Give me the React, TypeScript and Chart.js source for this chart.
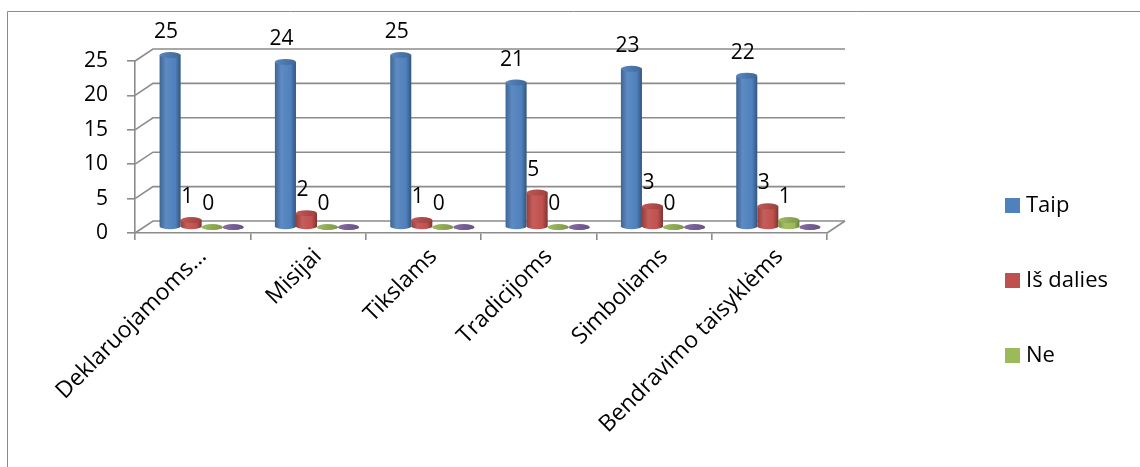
import React, { useEffect, useRef } from "react";
import { Chart, registerables } from "chart.js";

Chart.register(...registerables);

const categories = [
  "Deklaruojamoms…",
  "Misijai",
  "Tikslams",
  "Tradicijoms",
  "Simboliams",
  "Bendravimo taisyklėms",
];
const taipValues = [25, 24, 25, 21, 23, 22];
const isDaliesValues = [1, 2, 1, 5, 3, 3];
const neValues = [0, 0, 0, 0, 0, 1];
const otherValues = [0, 0, 0, 0, 0, 0];
const yTicks = [0, 5, 10, 15, 20, 25];

const seriesNames = ["Taip", "Iš dalies", "Ne", ""];
const seriesColors = ["#4F81BD", "#C0504D", "#9BBB59", "#8064A2"];
const labelledSeries = 3;

const FONT = "'Open Sans', 'Noto Sans', sans-serif";
const GRID = "#8c8c8c";
// depth of the 3D box (back wall offset) and of the bar row inside it
const DX = 18;
const DY = -12;
const BX = 9;
const BY = -6;

function shade(hex: string, amt: number): string {
  const n = parseInt(hex.slice(1), 16);
  let r = (n >> 16) & 255;
  let g = (n >> 8) & 255;
  let b = n & 255;
  const f = (c: number) =>
    Math.round(amt >= 0 ? c + (255 - c) * amt : c * (1 + amt));
  r = f(r);
  g = f(g);
  b = f(b);
  return `rgb(${r},${g},${b})`;
}

function drawCylinder(
  ctx: CanvasRenderingContext2D,
  cx: number,
  top: number,
  base: number,
  w: number,
  color: string
) {
  const rx = w / 2;
  const ry = 3;
  const l = cx - rx;
  const r = cx + rx;
  const g = ctx.createLinearGradient(l, 0, r, 0);
  g.addColorStop(0, shade(color, -0.22));
  g.addColorStop(0.3, shade(color, 0.08));
  g.addColorStop(0.75, color);
  g.addColorStop(1, shade(color, -0.35));
  ctx.beginPath();
  ctx.moveTo(l, top);
  ctx.lineTo(l, base);
  ctx.ellipse(cx, base, rx, ry, 0, Math.PI, 0, true);
  ctx.lineTo(r, top);
  ctx.closePath();
  ctx.fillStyle = g;
  ctx.fill();
  // top cap
  const cg = ctx.createLinearGradient(l, top - ry, r, top + ry);
  cg.addColorStop(0, shade(color, 0.05));
  cg.addColorStop(1, shade(color, -0.2));
  ctx.beginPath();
  ctx.ellipse(cx, top, rx, ry, 0, 0, Math.PI * 2);
  ctx.fillStyle = cg;
  ctx.fill();
}

const boxPlugin = {
  id: "box3d",
  beforeDraw(chart: any) {
    const { ctx, chartArea, scales } = chart;
    const { left, right, bottom } = chartArea;
    const y = scales.y;
    ctx.save();
    ctx.fillStyle = "#ffffff";
    ctx.fillRect(0, 0, chart.width, chart.height);
    // outer frame
    ctx.strokeStyle = "#8c8c8c";
    ctx.lineWidth = 1;
    ctx.beginPath();
    ctx.moveTo(7.5, chart.height);
    ctx.lineTo(7.5, 11.5);
    ctx.lineTo(chart.width, 11.5);
    ctx.stroke();
    // back wall gridlines and side wall diagonals
    ctx.strokeStyle = GRID;
    ctx.lineWidth = 1.6;
    for (const v of yTicks) {
      const py = y.getPixelForValue(v);
      ctx.beginPath();
      ctx.moveTo(left, py);
      ctx.lineTo(left + DX, py + DY);
      ctx.lineTo(right + DX, py + DY);
      ctx.stroke();
    }
    // floor right edge
    ctx.beginPath();
    ctx.moveTo(right, bottom);
    ctx.lineTo(right + DX, bottom + DY);
    ctx.stroke();
    ctx.restore();
  },
  afterDatasetsDraw(chart: any) {
    const { ctx } = chart;
    ctx.save();
    const metas = chart.data.datasets.map((_: any, i: number) =>
      chart.getDatasetMeta(i)
    );
    for (let c = 0; c < categories.length; c++) {
      metas.forEach((meta: any, d: number) => {
        const el = meta.data[c];
        drawCylinder(
          ctx,
          el.x + BX,
          el.y + BY,
          el.base + BY,
          el.width,
          seriesColors[d]
        );
      });
    }
    // value labels
    ctx.fillStyle = "#000";
    ctx.font = `21px ${FONT}`;
    ctx.textAlign = "center";
    ctx.textBaseline = "middle";
    for (let d = 0; d < labelledSeries; d++) {
      const meta = chart.getDatasetMeta(d);
      const vals = chart.data.datasets[d].data;
      meta.data.forEach((el: any, i: number) => {
        ctx.fillText(String(vals[i]), el.x + 5, el.y - 29);
      });
    }
    ctx.restore();
  },
  afterDraw(chart: any) {
    const { ctx } = chart;
    ctx.save();
    ctx.font = `22px ${FONT}`;
    ctx.textBaseline = "middle";
    ctx.textAlign = "left";
    for (let d = 0; d < labelledSeries; d++) {
      const cy = 205 + d * 75;
      ctx.fillStyle = seriesColors[d];
      ctx.fillRect(1005, cy - 7, 15, 15);
      ctx.fillStyle = "#000";
      ctx.fillText(seriesNames[d], 1026, cy + 1);
    }
    ctx.restore();
  },
};

export default function App() {
  const canvasRef = useRef<HTMLCanvasElement | null>(null);

  useEffect(() => {
    if (!canvasRef.current) return;
    const seriesValues = [taipValues, isDaliesValues, neValues, otherValues];
    const chart = new Chart(canvasRef.current, {
      type: "bar",
      data: {
        labels: categories,
        datasets: seriesValues.map((vals, i) => ({
          label: seriesNames[i],
          data: vals,
          backgroundColor: "rgba(0,0,0,0)",
          borderWidth: 0,
          categoryPercentage: 0.73,
          barPercentage: 1,
        })),
      },
      options: {
        responsive: false,
        animation: false,
        devicePixelRatio: 1,
        layout: { padding: { top: 61, right: 313, bottom: 0, left: 0 } },
        plugins: {
          legend: { display: false },
          tooltip: { enabled: false },
          title: { display: false },
        },
        scales: {
          x: {
            offset: true,
            grid: {
              display: true,
              drawOnChartArea: false,
              drawTicks: true,
              tickLength: 7,
              color: GRID,
              lineWidth: 1.6,
              offset: true,
            },
            border: { display: true, color: GRID, width: 1.6 },
            ticks: {
              autoSkip: false,
              minRotation: 45,
              maxRotation: 45,
              color: "#000",
              padding: 3,
              labelOffset: 10,
              font: { family: FONT, size: 23 },
            },
            afterFit: (s: any) => {
              s.height = 234;
            },
          },
          y: {
            min: 0,
            max: 25,
            ticks: {
              stepSize: 5,
              color: "#000",
              padding: 19,
              font: { family: FONT, size: 21 },
            },
            grid: {
              display: true,
              drawOnChartArea: false,
              drawTicks: true,
              tickLength: 8,
              color: GRID,
              lineWidth: 1.6,
            },
            border: { display: true, color: GRID, width: 1.6 },
            afterFit: (s: any) => {
              s.width = 135;
            },
          },
        },
      },
      plugins: [boxPlugin],
    });
    return () => chart.destroy();
  }, []);

  return (
    <div
      style={{
        position: "absolute",
        left: 0,
        top: 0,
        width: 1140,
        height: 467,
        background: "#fff",
      }}
    >
      <canvas ref={canvasRef} width={1140} height={467} />
    </div>
  );
}
